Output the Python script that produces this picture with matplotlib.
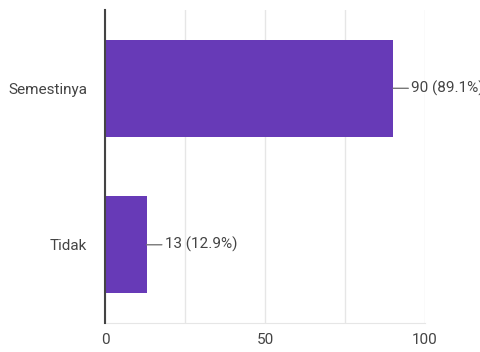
import matplotlib.pyplot as plt

categories = ["Semestinya", "Tidak"]
counts = [90, 13]
labels = ["90 (89.1%)", "13 (12.9%)"]
xticks = [0, 50, 100]

plt.rcParams['font.family'] = ['Roboto', 'DejaVu Sans']

fig = plt.figure(figsize=(4.8, 3.52), dpi=100)
ax = fig.add_axes([0.21875, 0.0824, 0.6667, 0.889])

ypos = list(range(len(categories)))
ax.barh(ypos, counts, height=0.62, color="#673ab7", zorder=3)
ax.set_ylim(len(categories) - 0.5, -0.5)
ax.set_xlim(0, 100)

ax.set_yticks(ypos)
ax.set_yticklabels(categories)
ax.set_xticks(xticks)
ax.set_xticks([25, 75], minor=True)
ax.grid(axis="x", which="both", color="#e6e6e6", linewidth=1, zorder=0)
ax.tick_params(axis="both", which="both", length=0, labelsize=11, colors="#444444")
ax.tick_params(axis="x", pad=7)
ax.tick_params(axis="y", pad=13)

for s in ["top", "right"]:
    ax.spines[s].set_visible(False)
ax.spines["bottom"].set_color("#e6e6e6")
ax.spines["left"].set_color("#444444")
ax.spines["left"].set_linewidth(1.5)
ax.spines["left"].set_zorder(4)

# value labels with short leader line
for y, v, lab in zip(ypos, counts, labels):
    ax.annotate(lab, xy=(v, y), xytext=(13, 0), textcoords="offset points",
                va="center", ha="left", fontsize=11, color="#444444",
                annotation_clip=False,
                arrowprops=dict(arrowstyle="-", color="#777777", lw=1,
                                shrinkA=0, shrinkB=0, patchB=None))

fig.savefig("out.png", dpi=100)
